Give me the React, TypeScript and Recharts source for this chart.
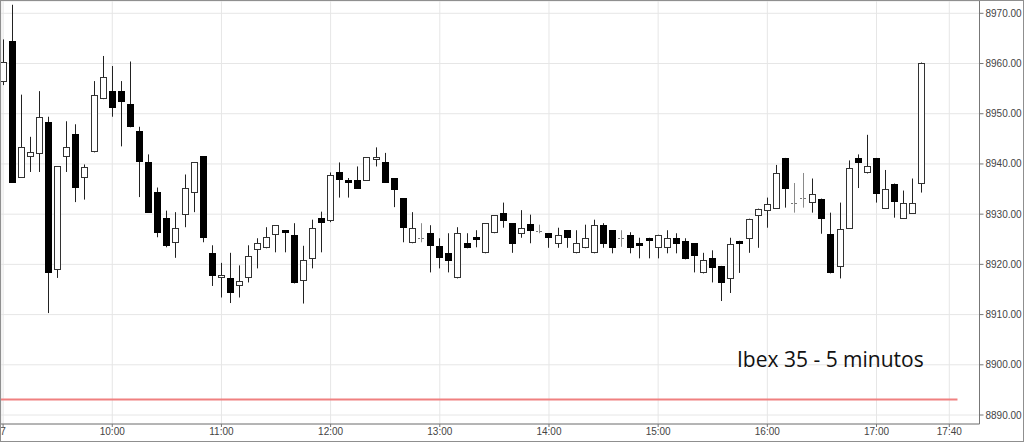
import React from 'react';
import { ComposedChart, Bar, XAxis, YAxis, CartesianGrid, ReferenceLine } from 'recharts';

// 5-minute candles, first one at 09:00
const opens = [
  8956.4, 8964.5, 8937.2, 8941.4, 8941.9, 8948.4, 8918.9, 8941.4, 8945.9, 8937.2,
  8942.3, 8952.9, 8954.5, 8954.5, 8951.9, 8946.5, 8940.4, 8934.4, 8929.3, 8924.2,
  8929.8, 8934.3, 8941.5, 8922.3, 8917.2, 8917.3, 8915.7, 8917.2, 8922.8, 8923.2,
  8925.8, 8926.8, 8925.8, 8916.6, 8921.1, 8929.2, 8928.7, 8938.3, 8936.8, 8936.8,
  8936.7, 8940.8, 8940.3, 8937.2, 8933.2, 8924.2, 8925.2, 8926.2, 8923.6, 8922.2,
  8917.2, 8924.2, 8925.4, 8922.2, 8926.2, 8930.3, 8928.2, 8926.1, 8928.1, 8926.7,
  8926.2, 8924.1, 8926.8, 8922.2, 8923.2, 8922.2, 8927.9, 8926.8, 8925.2, 8925.9,
  8924.2, 8925.2, 8923.2, 8923.2, 8925.2, 8924.7, 8924.2, 8918.2, 8921.2, 8919.7,
  8917.0, 8924.7, 8925.1, 8929.7, 8930.6, 8931.1, 8941.2, 8932.3, 8933.3, 8932.3,
  8933.1, 8926.1, 8919.5, 8927.1, 8941.2, 8938.1, 8941.2, 8931.1, 8936.1, 8929.1,
  8930.1, 8936.1,
];
const highs = [
  8964.8, 8971.7, 8953.8, 8945.4, 8954.5, 8949.4, 8939.5, 8948.5, 8947.9, 8939.9,
  8956.5, 8961.5, 8959.5, 8956.5, 8960.4, 8947.4, 8941.9, 8935.3, 8930.7, 8930.4,
  8937.9, 8940.3, 8941.5, 8923.8, 8920.3, 8922.3, 8919.8, 8923.8, 8925.2, 8927.4,
  8927.8, 8926.8, 8928.2, 8923.7, 8928.9, 8930.5, 8938.3, 8940.3, 8937.2, 8939.5,
  8941.3, 8943.3, 8942.2, 8937.2, 8933.2, 8930.4, 8928.2, 8927.8, 8925.2, 8926.2,
  8927.4, 8926.2, 8926.8, 8928.2, 8929.8, 8932.3, 8928.2, 8930.8, 8929.9, 8927.9,
  8926.2, 8927.3, 8926.8, 8926.8, 8927.9, 8928.9, 8928.2, 8926.8, 8926.8, 8926.4,
  8925.3, 8925.3, 8925.9, 8926.8, 8926.2, 8925.2, 8924.2, 8922.3, 8922.8, 8919.7,
  8925.3, 8924.7, 8929.1, 8931.1, 8933.3, 8939.8, 8941.2, 8936.2, 8938.2, 8937.1,
  8933.1, 8930.3, 8932.3, 8940.7, 8941.9, 8945.8, 8941.2, 8938.8, 8936.1, 8934.7,
  8937.1, 8960.2,
];
const lows = [
  8955.7, 8936.3, 8937.2, 8938.4, 8938.4, 8910.3, 8917.3, 8938.4, 8932.4, 8932.9,
  8942.3, 8952.9, 8949.4, 8943.5, 8947.3, 8933.4, 8930.3, 8925.4, 8923.4, 8921.3,
  8927.4, 8930.4, 8924.4, 8915.7, 8913.4, 8912.3, 8913.4, 8916.4, 8919.2, 8923.2,
  8922.4, 8922.4, 8916.2, 8912.2, 8919.2, 8922.4, 8928.4, 8933.3, 8933.3, 8935.1,
  8936.7, 8939.5, 8936.3, 8931.4, 8924.4, 8924.2, 8924.4, 8918.4, 8919.2, 8918.4,
  8917.2, 8923.2, 8923.4, 8922.2, 8926.2, 8927.3, 8922.3, 8925.3, 8924.2, 8926.2,
  8923.3, 8923.3, 8923.3, 8922.2, 8923.2, 8922.2, 8923.3, 8922.2, 8923.5, 8922.2,
  8921.2, 8921.2, 8921.2, 8922.2, 8922.2, 8921.0, 8918.4, 8918.2, 8916.4, 8912.7,
  8914.3, 8918.3, 8922.3, 8923.3, 8927.3, 8931.1, 8931.3, 8930.3, 8931.3, 8930.3,
  8926.1, 8918.2, 8917.2, 8927.1, 8935.2, 8938.1, 8932.3, 8931.1, 8929.3, 8929.1,
  8930.1, 8934.3,
];
const closes = [
  8960.4, 8936.3, 8943.4, 8942.3, 8949.4, 8918.2, 8939.5, 8943.4, 8935.2, 8939.4,
  8953.8, 8957.4, 8951.2, 8952.4, 8947.3, 8940.3, 8930.3, 8926.2, 8923.6, 8927.3,
  8935.3, 8940.3, 8925.2, 8917.7, 8917.8, 8914.3, 8916.7, 8921.7, 8924.2, 8925.4,
  8927.8, 8926.2, 8916.2, 8920.8, 8927.2, 8928.2, 8937.8, 8936.8, 8936.3, 8935.1,
  8941.3, 8941.3, 8936.3, 8934.8, 8927.2, 8927.2, 8925.2, 8923.6, 8921.2, 8920.7,
  8926.2, 8923.2, 8924.8, 8928.2, 8929.8, 8928.7, 8924.1, 8927.2, 8926.7, 8926.7,
  8925.2, 8925.9, 8925.2, 8924.2, 8925.2, 8927.9, 8924.1, 8923.2, 8925.2, 8923.2,
  8923.7, 8924.7, 8925.9, 8925.2, 8924.1, 8921.0, 8921.7, 8920.8, 8919.2, 8916.2,
  8924.1, 8924.1, 8929.1, 8931.1, 8932.1, 8938.1, 8935.1, 8932.3, 8933.3, 8934.1,
  8929.1, 8918.2, 8927.1, 8939.2, 8940.1, 8939.6, 8934.1, 8935.1, 8932.5, 8932.3,
  8932.3, 8960.2,
];

// minutes after 09:00 for x ticks, and their labels
const xTicks = [0, 60, 120, 180, 240, 300, 360, 420, 480, 520];
const xTickLabels = ['7', '10:00', '11:00', '12:00', '13:00', '14:00', '15:00', '16:00', '17:00', '17:40'];
const yTicks = [8890, 8900, 8910, 8920, 8930, 8940, 8950, 8960, 8970];
const prevClose = 8893.1;
const prevCloseEnd = 524.5;
const title = 'Ibex 35 - 5 minutos';

const data = opens.map((o, i) => ({
  t: i * 5,
  open: o,
  high: highs[i],
  low: lows[i],
  close: closes[i],
  range: [lows[i], highs[i]],
}));

const CandleShape = (props: any) => {
  const { x, y, width, height, payload } = props;
  if (!payload) return null;
  const { open, high, low, close } = payload;
  const top = Math.min(y, y + height);
  const h = Math.abs(height);
  if (high === low || !isFinite(h)) return null;
  const k = h / (high - low);
  const yOf = (v: number) => top + (high - v) * k;
  const px = Math.round(x + width / 2 - 0.5);
  const wx = px + 0.5;
  const yH = yOf(high);
  const yL = yOf(low);
  const bTop = Math.round(yOf(Math.max(open, close)));
  const bBot = Math.round(yOf(Math.min(open, close)));
  if (open === close) {
    const yy = Math.round(yOf(open)) + 0.5;
    return (
      <g>
        <line x1={wx} x2={wx} y1={yH} y2={yL} stroke="#8a8a8a" strokeWidth={1} />
        <line x1={px - 3} x2={px + 4} y1={yy} y2={yy} stroke="#777" strokeWidth={1} strokeDasharray="2 2" />
      </g>
    );
  }
  const up = close > open;
  return (
    <g>
      <line x1={wx} x2={wx} y1={yH} y2={yL} stroke="#222" strokeWidth={1} />
      {up ? (
        <rect x={px - 2.5} y={bTop + 0.5} width={6} height={Math.max(1, bBot - bTop - 1)} fill="#fff" stroke="#333" strokeWidth={1} />
      ) : (
        <rect x={px - 3} y={bTop} width={7} height={Math.max(1, bBot - bTop)} fill="#000" />
      )}
    </g>
  );
};

const tickFont = { fill: '#444', fontSize: 10, fontFamily: 'Liberation Sans, Arial, sans-serif' };

export default function App() {
  return (
    <div style={{ position: 'absolute', left: 0, top: 0, width: 1024, height: 442, background: '#fff' }}>
      <ComposedChart width={1024} height={442} data={data} margin={{ top: 1, right: 0, bottom: 0, left: 1 }}>
        <CartesianGrid stroke="#e6e6e6" />
        <XAxis
          dataKey="t"
          type="number"
          domain={[-1.15, 536.6]}
          allowDataOverflow
          ticks={xTicks}
          interval={0}
          tickFormatter={(v: number) => xTickLabels[xTicks.indexOf(v)] ?? ''}
          height={18}
          tickSize={3}
          tickMargin={1}
          tick={tickFont}
          axisLine={{ stroke: '#777' }}
          tickLine={{ stroke: '#777' }}
        />
        <YAxis
          orientation="right"
          type="number"
          domain={[8888.21, 8972.45]}
          allowDataOverflow
          ticks={yTicks}
          interval={0}
          width={44.5}
          tickSize={4}
          tickMargin={2}
          tickFormatter={(v: number) => v.toFixed(2)}
          tick={tickFont}
          axisLine={{ stroke: '#777' }}
          tickLine={{ stroke: '#777' }}
        />
        <ReferenceLine
          segment={[{ x: -1.15, y: prevClose }, { x: prevCloseEnd, y: prevClose }]}
          stroke="#f08080"
          strokeWidth={2}
        />
        <Bar dataKey="range" barSize={7} shape={CandleShape} isAnimationActive={false} />
      </ComposedChart>
      <svg width={1024} height={442} style={{ position: 'absolute', left: 0, top: 0, pointerEvents: 'none' }}>
        <text x={737} y={367} fontFamily="Open Sans, sans-serif" fontSize={21} fill="#111">{title}</text>
      </svg>
      <div style={{ position: 'absolute', left: 0, top: 0, width: 1024, height: 442, boxSizing: 'border-box', border: '1px solid #8f8f8f', pointerEvents: 'none' }} />
    </div>
  );
}
